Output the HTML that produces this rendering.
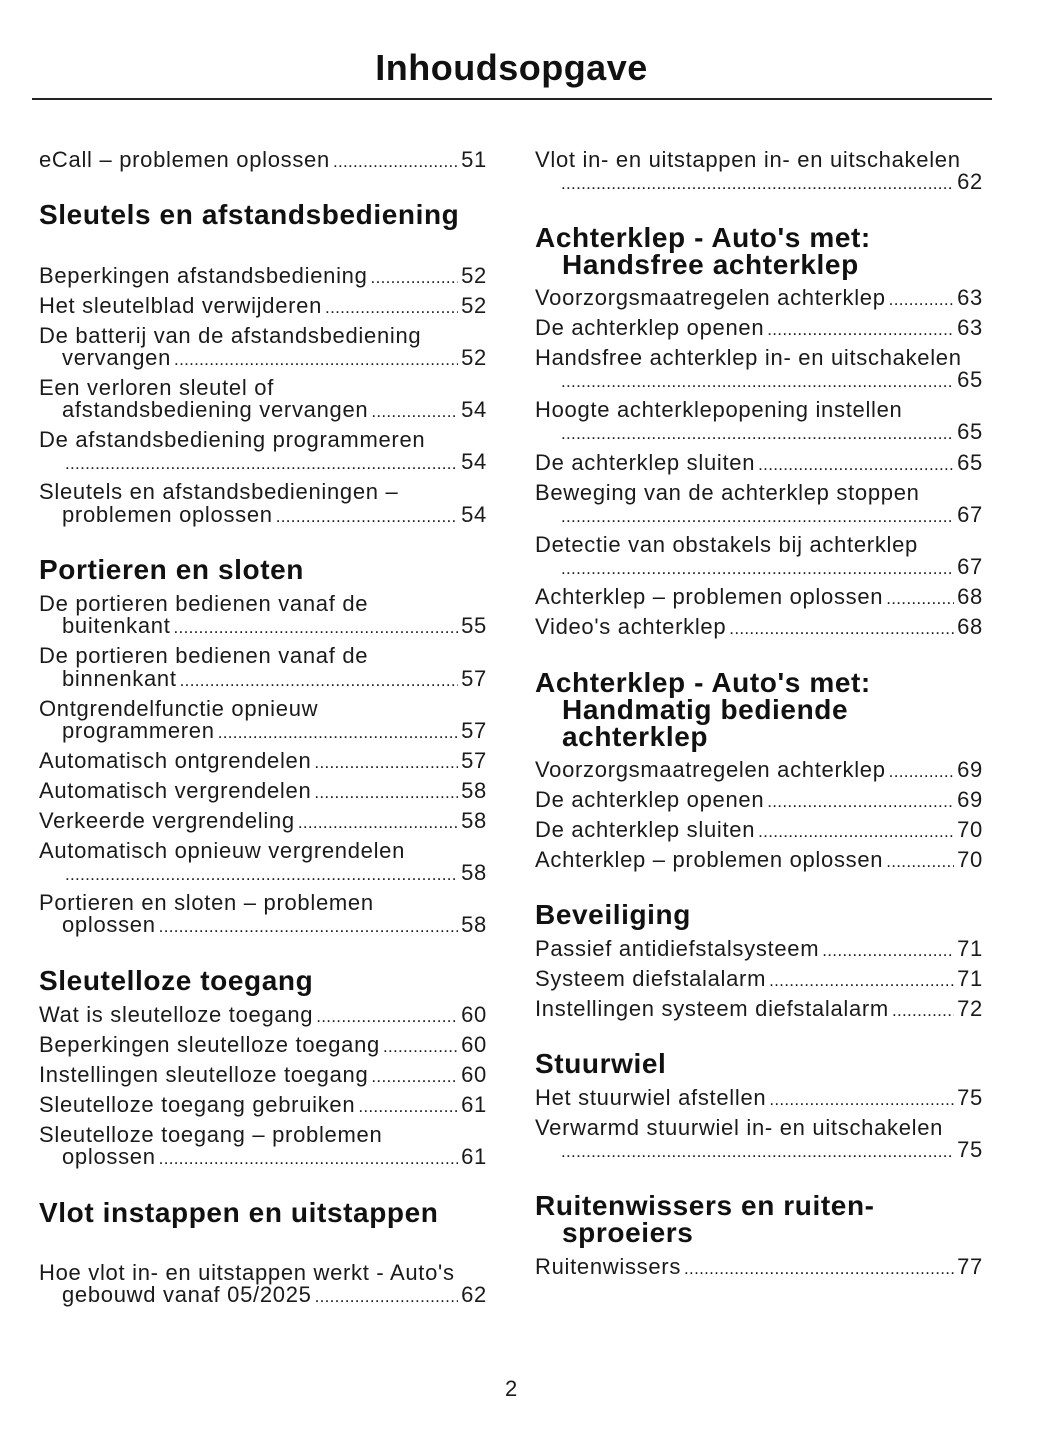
<!DOCTYPE html>
<html><head><meta charset="utf-8"><style>
body{margin:0;width:1055px;height:1448px;background:#fff;position:relative;font-family:"Liberation Sans",sans-serif;color:#1a1a1a;overflow:hidden}
.a{position:absolute;white-space:nowrap;font-size:22px;line-height:30px;letter-spacing:0.7px}
.e{position:absolute;display:flex;align-items:baseline;font-size:22px;line-height:30px;white-space:nowrap;letter-spacing:0.7px}
.e .d{flex:1;overflow:hidden;white-space:nowrap;font-size:17px;letter-spacing:0.3px;margin:0 3px}
.h{position:absolute;white-space:nowrap;font-size:28px;line-height:30px;font-weight:bold;letter-spacing:0.6px;color:#111}
.L{left:39px;width:448px}.Li{left:62px;width:425px}
.R{left:535px;width:448px}.Ri{left:558px;width:425px}
</style></head><body>
<div style="position:absolute;left:0;width:1023px;top:47px;text-align:center;font-size:36px;font-weight:bold;line-height:42px;letter-spacing:0.5px;color:#111">Inhoudsopgave</div>
<div style="position:absolute;left:32px;top:98px;width:960px;height:2px;background:#222"></div>
<!-- LEFT -->
<div class="e L" style="top:145px">eCall – problemen oplossen<span class="d">..................................................................................................</span>51</div>
<div class="h" style="left:39px;top:200px;letter-spacing:0.6px">Sleutels en afstandsbediening</div>
<div class="e L" style="top:261px">Beperkingen afstandsbediening<span class="d">..................................................................................................</span>52</div>
<div class="e L" style="top:291px">Het sleutelblad verwijderen<span class="d">..................................................................................................</span>52</div>
<div class="a" style="left:39px;top:321px">De batterij van de afstandsbediening</div>
<div class="e Li" style="top:343px">vervangen<span class="d">..................................................................................................</span>52</div>
<div class="a" style="left:39px;top:373px">Een verloren sleutel of</div>
<div class="e Li" style="top:395px">afstandsbediening vervangen<span class="d">..................................................................................................</span>54</div>
<div class="a" style="left:39px;top:425px">De afstandsbediening programmeren</div>
<div class="e Li" style="top:447px"><span class="d">..................................................................................................</span>54</div>
<div class="a" style="left:39px;top:477px">Sleutels en afstandsbedieningen –</div>
<div class="e Li" style="top:500px">problemen oplossen<span class="d">..................................................................................................</span>54</div>
<div class="h" style="left:39px;top:555px">Portieren en sloten</div>
<div class="a" style="left:39px;top:589px">De portieren bedienen vanaf de</div>
<div class="e Li" style="top:611px">buitenkant<span class="d">..................................................................................................</span>55</div>
<div class="a" style="left:39px;top:641px">De portieren bedienen vanaf de</div>
<div class="e Li" style="top:664px">binnenkant<span class="d">..................................................................................................</span>57</div>
<div class="a" style="left:39px;top:694px">Ontgrendelfunctie opnieuw</div>
<div class="e Li" style="top:716px">programmeren<span class="d">..................................................................................................</span>57</div>
<div class="e L" style="top:746px">Automatisch ontgrendelen<span class="d">..................................................................................................</span>57</div>
<div class="e L" style="top:776px">Automatisch vergrendelen<span class="d">..................................................................................................</span>58</div>
<div class="e L" style="top:806px">Verkeerde vergrendeling<span class="d">..................................................................................................</span>58</div>
<div class="a" style="left:39px;top:836px">Automatisch opnieuw vergrendelen</div>
<div class="e Li" style="top:858px"><span class="d">..................................................................................................</span>58</div>
<div class="a" style="left:39px;top:888px">Portieren en sloten – problemen</div>
<div class="e Li" style="top:910px">oplossen<span class="d">..................................................................................................</span>58</div>
<div class="h" style="left:39px;top:966px">Sleutelloze toegang</div>
<div class="e L" style="top:1000px">Wat is sleutelloze toegang<span class="d">..................................................................................................</span>60</div>
<div class="e L" style="top:1030px">Beperkingen sleutelloze toegang<span class="d">..................................................................................................</span>60</div>
<div class="e L" style="top:1060px">Instellingen sleutelloze toegang<span class="d">..................................................................................................</span>60</div>
<div class="e L" style="top:1090px">Sleutelloze toegang gebruiken<span class="d">..................................................................................................</span>61</div>
<div class="a" style="left:39px;top:1120px">Sleutelloze toegang – problemen</div>
<div class="e Li" style="top:1142px">oplossen<span class="d">..................................................................................................</span>61</div>
<div class="h" style="left:39px;top:1198px">Vlot instappen en uitstappen</div>
<div class="a" style="left:39px;top:1258px">Hoe vlot in- en uitstappen werkt - Auto's</div>
<div class="e Li" style="top:1280px">gebouwd vanaf 05/2025<span class="d">..................................................................................................</span>62</div>
<!-- RIGHT -->
<div class="a" style="left:535px;top:145px">Vlot in- en uitstappen in- en uitschakelen</div>
<div class="e Ri" style="top:167px"><span class="d">..................................................................................................</span>62</div>
<div class="h" style="left:535px;top:223px">Achterklep - Auto's met:</div>
<div class="h" style="left:562px;top:250px">Handsfree achterklep</div>
<div class="e R" style="top:283px">Voorzorgsmaatregelen achterklep<span class="d">..................................................................................................</span>63</div>
<div class="e R" style="top:313px">De achterklep openen<span class="d">..................................................................................................</span>63</div>
<div class="a" style="left:535px;top:343px">Handsfree achterklep in- en uitschakelen</div>
<div class="e Ri" style="top:365px"><span class="d">..................................................................................................</span>65</div>
<div class="a" style="left:535px;top:395px">Hoogte achterklepopening instellen</div>
<div class="e Ri" style="top:417px"><span class="d">..................................................................................................</span>65</div>
<div class="e R" style="top:448px">De achterklep sluiten<span class="d">..................................................................................................</span>65</div>
<div class="a" style="left:535px;top:478px">Beweging van de achterklep stoppen</div>
<div class="e Ri" style="top:500px"><span class="d">..................................................................................................</span>67</div>
<div class="a" style="left:535px;top:530px">Detectie van obstakels bij achterklep</div>
<div class="e Ri" style="top:552px"><span class="d">..................................................................................................</span>67</div>
<div class="e R" style="top:582px">Achterklep – problemen oplossen<span class="d">..................................................................................................</span>68</div>
<div class="e R" style="top:612px">Video's achterklep<span class="d">..................................................................................................</span>68</div>
<div class="h" style="left:535px;top:668px">Achterklep - Auto's met:</div>
<div class="h" style="left:562px;top:695px">Handmatig bediende</div>
<div class="h" style="left:562px;top:722px">achterklep</div>
<div class="e R" style="top:755px">Voorzorgsmaatregelen achterklep<span class="d">..................................................................................................</span>69</div>
<div class="e R" style="top:785px">De achterklep openen<span class="d">..................................................................................................</span>69</div>
<div class="e R" style="top:815px">De achterklep sluiten<span class="d">..................................................................................................</span>70</div>
<div class="e R" style="top:845px">Achterklep – problemen oplossen<span class="d">..................................................................................................</span>70</div>
<div class="h" style="left:535px;top:900px">Beveiliging</div>
<div class="e R" style="top:934px">Passief antidiefstalsysteem<span class="d">..................................................................................................</span>71</div>
<div class="e R" style="top:964px">Systeem diefstalalarm<span class="d">..................................................................................................</span>71</div>
<div class="e R" style="top:994px">Instellingen systeem diefstalalarm<span class="d">..................................................................................................</span>72</div>
<div class="h" style="left:535px;top:1049px">Stuurwiel</div>
<div class="e R" style="top:1083px">Het stuurwiel afstellen<span class="d">..................................................................................................</span>75</div>
<div class="a" style="left:535px;top:1113px">Verwarmd stuurwiel in- en uitschakelen</div>
<div class="e Ri" style="top:1135px"><span class="d">..................................................................................................</span>75</div>
<div class="h" style="left:535px;top:1191px">Ruitenwissers en ruiten-</div>
<div class="h" style="left:562px;top:1218px">sproeiers</div>
<div class="e R" style="top:1252px">Ruitenwissers<span class="d">..................................................................................................</span>77</div>
<div class="a" style="left:0;width:1023px;text-align:center;top:1374px">2</div>
</body></html>
